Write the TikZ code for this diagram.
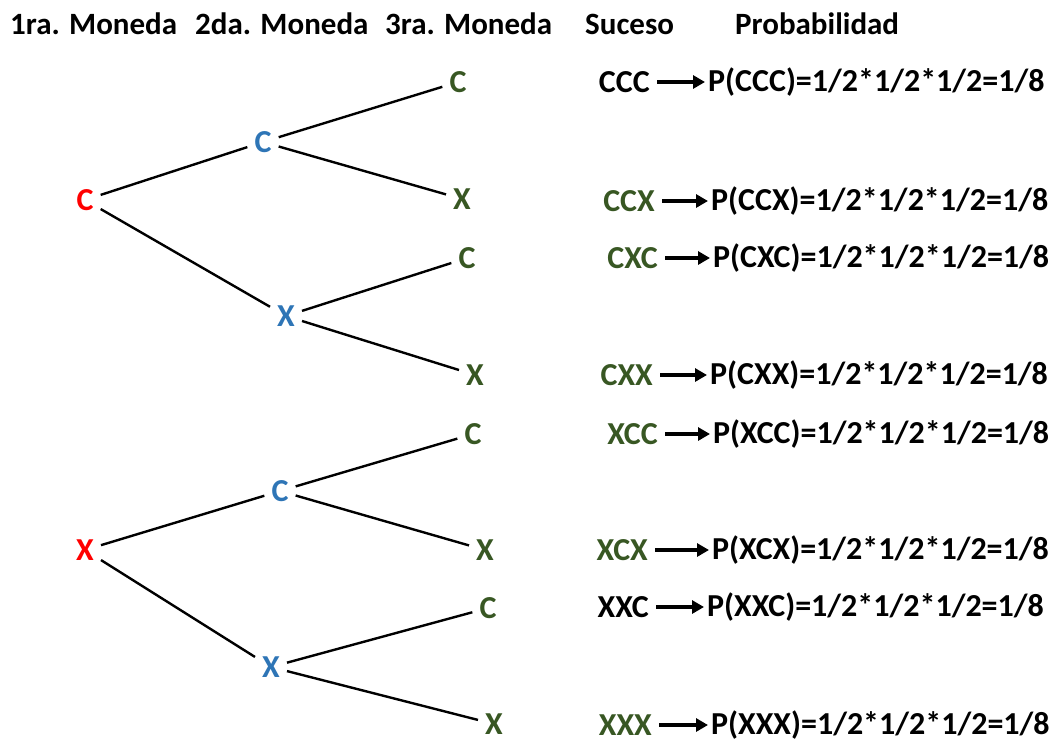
\documentclass[tikz,border=0pt]{standalone}
\usepackage{fontspec}
\setmainfont{Carlito}
\usetikzlibrary{arrows.meta}
\definecolor{cred}{RGB}{255,0,0}
\definecolor{cblue}{RGB}{46,117,182}
\definecolor{cgreen}{RGB}{56,87,35}
\begin{document}
\begin{tikzpicture}[x=1pt,y=-1pt,
  txt/.style={font=\fontsize{31}{36}\selectfont\bfseries},
  btxt/.style={font=\fontsize{32}{38}\selectfont\bfseries},
  head/.style={txt,anchor=west,inner sep=0pt},
  tnode/.style={btxt,inner sep=7pt},
  lone/.style={tnode,text=cred},
  ltwo/.style={tnode,text=cblue},
  lthree/.style={tnode,text=cgreen},
  suc/.style={btxt,inner xsep=7pt,inner ysep=2pt,anchor=east},
  prob/.style={btxt,inner xsep=3pt,inner ysep=2pt,anchor=west},
  edge/.style={line width=2.4pt},
  arr/.style={line width=4pt,-{Triangle[length=12pt,width=13pt]}}]
\useasboundingbox (0,0) rectangle (1056,742);
% headers
\node[head] (h1) at (10,24) {1ra. Moneda};
\node[head] (h2) at (195,24) {2da. Moneda};
\node[head] (h3) at (385,24) {3ra. Moneda};
\node[head] (h4) at (585,24) {Suceso};
\node[head] (h5) at (735,24) {Probabilidad};
% level 1
\node[lone] (a1) at (85,200) {C};
\node[lone] (a2) at (85,550) {X};
% level 2
\node[ltwo] (b1) at (263,142) {C};
\node[ltwo] (b2) at (286,316) {X};
\node[ltwo] (b3) at (280,491) {C};
\node[ltwo] (b4) at (271,667) {X};
% level 3
\node[lthree] (c1) at (458,82) {C};
\node[lthree] (c2) at (462,199) {X};
\node[lthree] (c3) at (467,258) {C};
\node[lthree] (c4) at (475,375) {X};
\node[lthree] (c5) at (473,434) {C};
\node[lthree] (c6) at (485,550) {X};
\node[lthree] (c7) at (488,608) {C};
\node[lthree] (c8) at (494,724) {X};
% edges
\draw[edge] (a1) -- (b1);
\draw[edge] (a1) -- (b2);
\draw[edge] (a2) -- (b3);
\draw[edge] (a2) -- (b4);
\draw[edge] (b1) -- (c1);
\draw[edge] (b1) -- (c2);
\draw[edge] (b2) -- (c3);
\draw[edge] (b2) -- (c4);
\draw[edge] (b3) -- (c5);
\draw[edge] (b3) -- (c6);
\draw[edge] (b4) -- (c7);
\draw[edge] (b4) -- (c8);
% sucesos
\node[suc] (s1) at (657,82) {CCC};
\node[suc,text=cgreen] (s2) at (662,201) {CCX};
\node[suc,text=cgreen] (s3) at (665,258) {CXC};
\node[suc,text=cgreen] (s4) at (660,375) {CXX};
\node[suc,text=cgreen] (s5) at (665,434) {XCC};
\node[suc,text=cgreen] (s6) at (655,550) {XCX};
\node[suc] (s7) at (656,607) {XXC};
\node[suc,text=cgreen] (s8) at (659,725) {XXX};
% probabilities
\node[prob] (p1) at (705,82) {P(CCC)=1/2*1/2*1/2=1/8};
\node[prob] (p2) at (708,201) {P(CCX)=1/2*1/2*1/2=1/8};
\node[prob] (p3) at (710,258) {P(CXC)=1/2*1/2*1/2=1/8};
\node[prob] (p4) at (707,375) {P(CXX)=1/2*1/2*1/2=1/8};
\node[prob] (p5) at (710,434) {P(XCC)=1/2*1/2*1/2=1/8};
\node[prob] (p6) at (709,550) {P(XCX)=1/2*1/2*1/2=1/8};
\node[prob] (p7) at (704,607) {P(XXC)=1/2*1/2*1/2=1/8};
\node[prob] (p8) at (708,725) {P(XXX)=1/2*1/2*1/2=1/8};
% arrows
\foreach \i in {1,...,8} {\draw[arr] (s\i.east) -- (p\i.west);}
\end{tikzpicture}
\end{document}
